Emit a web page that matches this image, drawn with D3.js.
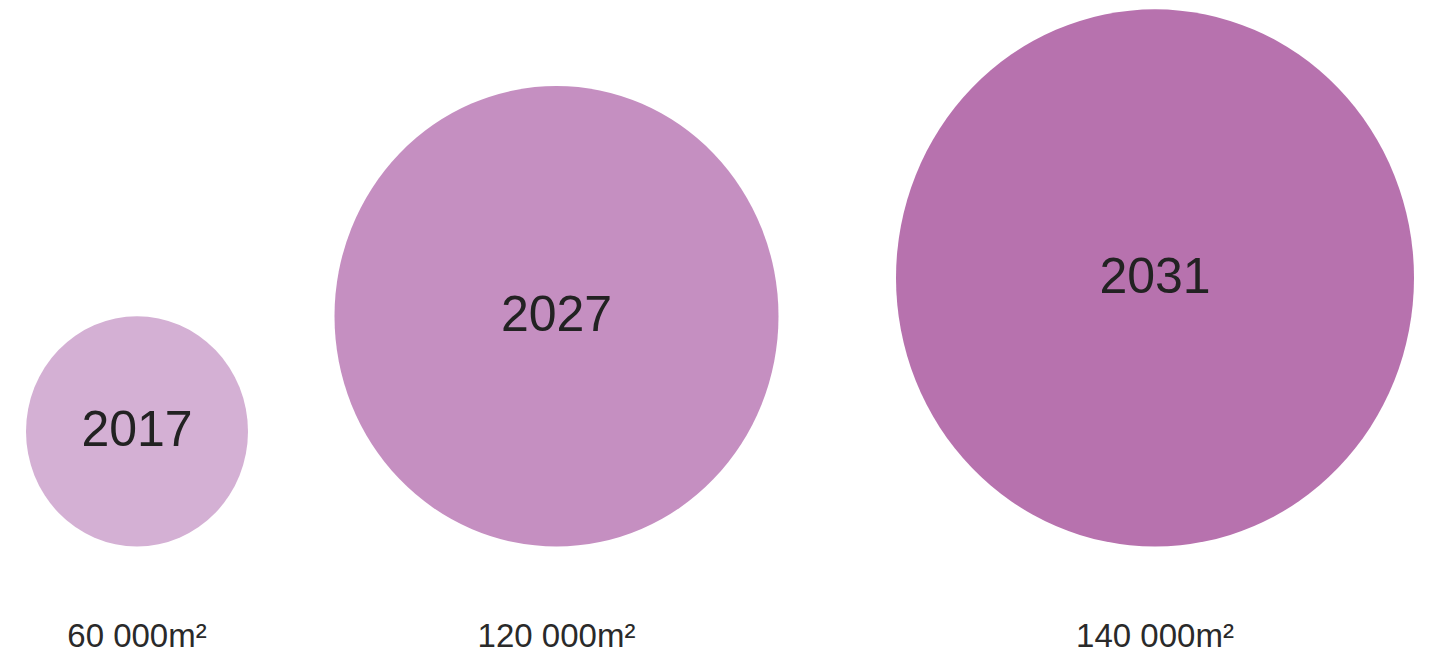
<!DOCTYPE html>
<html>
<head>
<meta charset="utf-8">
<script src="https://cdn.jsdelivr.net/npm/d3@7"></script>
<style>
  html, body { margin: 0; padding: 0; background: #ffffff; }
  svg { display: block; }
</style>
</head>
<body>
<svg id="chart" width="1433" height="657"></svg>
<script>
// ---- data ----
const years = ["2017", "2027", "2031"];
const areas = [60000, 120000, 140000];
const areaLabels = ["60 000m²", "120 000m²", "140 000m²"];
const colors = ["#d4b0d4", "#c58fc1", "#b772ae"];

// ---- layout ----
const W = 1433, H = 657;
const baseY = 546.5;        // common bottom of the bubbles
const stretch = 1.037;      // vertical stretch seen in the picture
const svg = d3.select("#chart");

const rScale = d3.scaleLinear().domain([0, 140000]).range([0, 259]);
const xScale = d3.scaleOrdinal().domain(years).range([137, 556.5, 1155]);
const colorScale = d3.scaleOrdinal().domain(years).range(colors);

const data = years.map((y, i) => ({ year: y, area: areas[i], label: areaLabels[i] }));

const g = svg.append("g");

g.selectAll("ellipse.bubble")
  .data(data)
  .join("ellipse")
  .attr("class", "bubble")
  .attr("cx", d => xScale(d.year))
  .attr("cy", d => baseY - rScale(d.area) * stretch)
  .attr("rx", d => rScale(d.area))
  .attr("ry", d => rScale(d.area) * stretch)
  .attr("fill", d => colorScale(d.year));

g.selectAll("text.year")
  .data(data)
  .join("text")
  .attr("class", "year")
  .attr("x", d => xScale(d.year))
  .attr("y", d => baseY - rScale(d.area) * stretch + 15)
  .attr("text-anchor", "middle")
  .attr("font-family", "Liberation Sans, Arial, sans-serif")
  .attr("font-size", 50)
  .attr("fill", "#222222")
  .text(d => d.year);

g.selectAll("text.area")
  .data(data)
  .join("text")
  .attr("class", "area")
  .attr("x", d => xScale(d.year))
  .attr("y", 647)
  .attr("text-anchor", "middle")
  .attr("font-family", "Liberation Sans, Arial, sans-serif")
  .attr("font-size", 33)
  .attr("fill", "#2a2a2a")
  .text(d => d.label);
</script>
</body>
</html>
